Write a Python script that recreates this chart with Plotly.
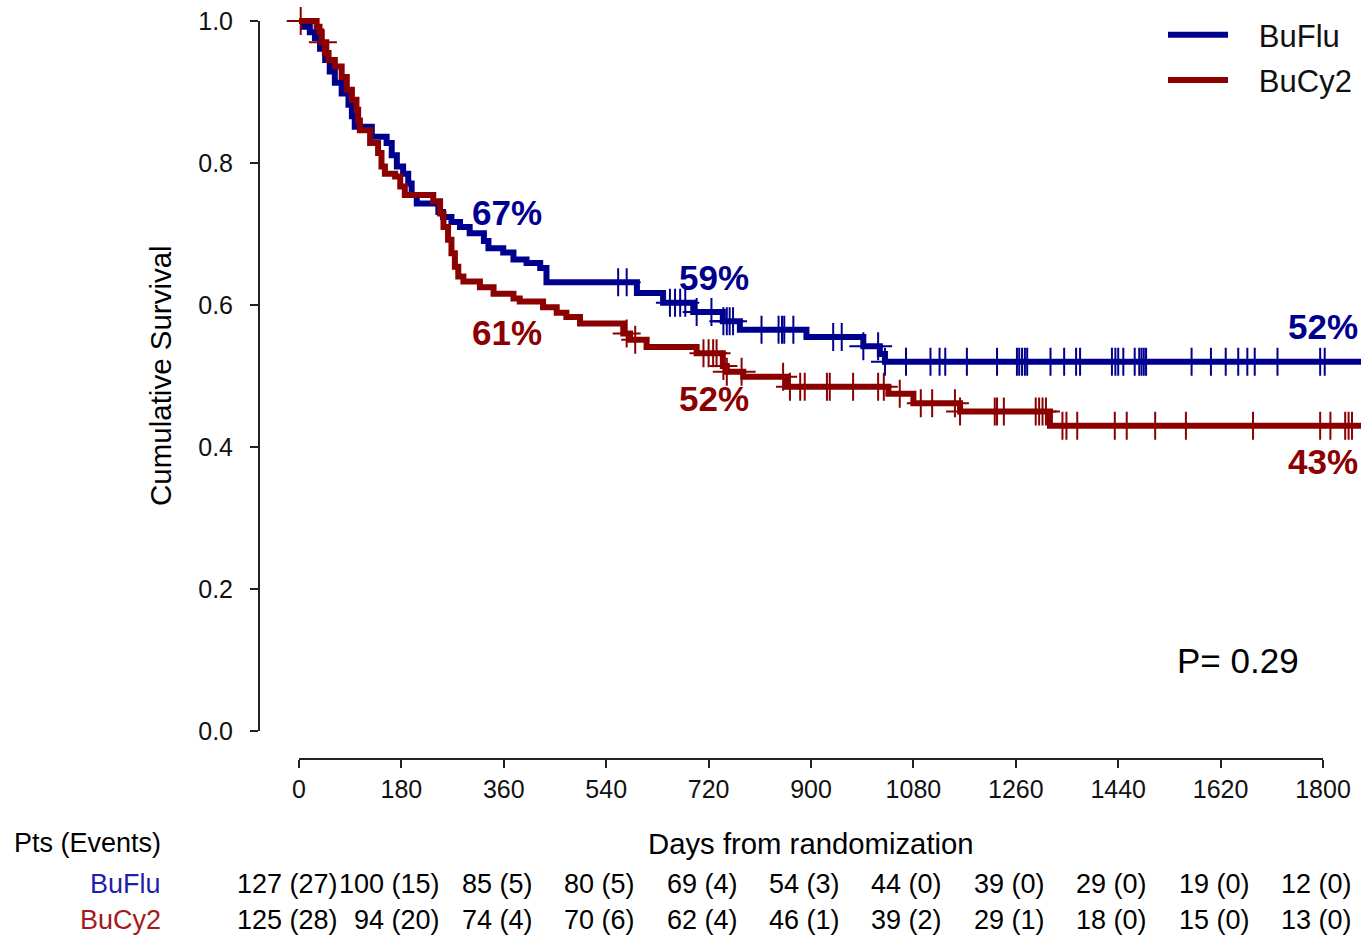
import numpy as np
import plotly.graph_objects as go

# ---------------- data ----------------
groups = ["BuFlu", "BuCy2"]

buflu_time = [0, 8, 19, 28, 37, 46, 54, 63, 75, 87, 93, 98, 128, 154, 163, 172, 183, 192,
              198, 207, 245, 253, 268, 283, 300, 325, 333, 359, 377, 400, 424, 435, 594,
              640, 693, 745, 775, 892, 992, 1021, 1030]
buflu_surv = [1.0, 0.992, 0.984, 0.976, 0.961, 0.945, 0.929, 0.913, 0.898, 0.882, 0.866,
              0.851, 0.837, 0.828, 0.811, 0.795, 0.785, 0.771, 0.755, 0.743, 0.731, 0.724,
              0.717, 0.710, 0.701, 0.690, 0.680, 0.674, 0.664, 0.659, 0.652, 0.632, 0.617,
              0.603, 0.590, 0.577, 0.565, 0.555, 0.542, 0.531, 0.520]
buflu_censor = [561, 576, 652, 661, 670, 679, 699, 725, 746, 752, 757, 763, 813, 843, 849,
                853, 869, 939, 954, 992, 1018, 1030, 1067, 1110, 1126, 1136, 1174, 1227,
                1262, 1266, 1271, 1276, 1280, 1321, 1345, 1366, 1373, 1429, 1435, 1440,
                1449, 1469, 1477, 1481, 1485, 1489, 1569, 1603, 1629, 1651, 1667, 1680,
                1720, 1795, 1803]

bucy2_time = [0, 31, 36, 40, 48, 52, 63, 75, 84, 93, 101, 104, 107, 125, 139, 145, 151, 169,
              178, 186, 236, 248, 254, 262, 268, 274, 280, 289, 318, 342, 377, 388, 429, 453,
              470, 494, 570, 582, 611, 699, 745, 752, 781, 857, 1036, 1080, 1162, 1320]
bucy2_surv = [1.0, 0.992, 0.984, 0.970, 0.955, 0.945, 0.936, 0.921, 0.903, 0.889, 0.875,
              0.860, 0.846, 0.828, 0.814, 0.795, 0.785, 0.781, 0.767, 0.755, 0.746, 0.729,
              0.710, 0.692, 0.673, 0.654, 0.640, 0.633, 0.625, 0.616, 0.609, 0.605, 0.597,
              0.589, 0.583, 0.574, 0.560, 0.551, 0.541, 0.532, 0.514, 0.506, 0.499, 0.485,
              0.475, 0.4615, 0.450, 0.430]
bucy2_censor = [3, 42, 576, 591, 711, 720, 728, 734, 746, 752, 778, 851, 863, 881, 889, 928,
                933, 974, 1018, 1028, 1056, 1093, 1113, 1153, 1162, 1223, 1227, 1239, 1295,
                1301, 1307, 1313, 1342, 1349, 1368, 1434, 1455, 1505, 1559, 1677, 1795, 1813,
                1839, 1845, 1851]

max_followup = 1875

x_ticks = [0, 180, 360, 540, 720, 900, 1080, 1260, 1440, 1620, 1800]
y_ticks = [0.0, 0.2, 0.4, 0.6, 0.8, 1.0]

buflu_risk = [127, 100, 85, 80, 69, 54, 44, 39, 29, 19, 12]
buflu_events = [27, 15, 5, 5, 4, 3, 0, 0, 0, 0, 0]
bucy2_risk = [125, 94, 74, 70, 62, 46, 39, 29, 18, 15, 13]
bucy2_events = [28, 20, 4, 6, 4, 1, 2, 1, 0, 0, 0]

label_days = [365, 729, 1800]
buflu_label_text = ["67%", "59%", "52%"]
buflu_label_y = [0.7296, 0.639, 0.570]
bucy2_label_text = ["61%", "52%", "43%"]
bucy2_label_y = [0.5606, 0.469, 0.380]
p_text = "P= 0.29"
p_pos = (1651, 0.100)

line_colors = ["#00008F", "#8B0000"]
text_colors = ["#1F1FAF", "#A51A1A"]

# ---------------- layout geometry ----------------
W, H = 1361, 936
L, R, T, B = 259, 0, 0, 177
plot_w = W - L - R
plot_h = H - T - B
FONT = "Liberation Sans, Arial, Helvetica, sans-serif"


def py_to_paper(py):
    return (H - B - py) / plot_h


def px_to_paper(px):
    return (px - L) / plot_w


fig = go.Figure()

series = [
    (buflu_time, buflu_surv, buflu_censor),
    (bucy2_time, bucy2_surv, bucy2_censor),
]
for gi, (name, (t, s, c), col) in enumerate(zip(groups, series, line_colors)):
    t_arr = np.array(t, dtype=float)
    s_arr = np.array(s, dtype=float)
    fig.add_trace(go.Scatter(
        x=list(t_arr) + [max_followup], y=list(s_arr) + [s_arr[-1]],
        mode="lines", line=dict(color=col, width=6, shape="hv"),
        name="\u00a0\u00a0\u00a0" + name, legendgroup=name, hoverinfo="skip"))
    c_arr = np.array(c, dtype=float)
    idx = np.searchsorted(t_arr, c_arr, side="right") - 1
    fig.add_trace(go.Scatter(
        x=c_arr, y=s_arr[idx], mode="markers", showlegend=False, legendgroup=name,
        marker=dict(symbol="cross-thin", size=20, color=col,
                    line=dict(color=col, width=2)),
        hoverinfo="skip"))

annotations = []
for d, txt, yv in zip(label_days, buflu_label_text, buflu_label_y):
    annotations.append(dict(x=d, y=yv, xref="x", yref="y", text=f"<b>{txt}</b>",
                            showarrow=False, xanchor="center", yanchor="middle",
                            font=dict(family=FONT, size=35, color=line_colors[0])))
for d, txt, yv in zip(label_days, bucy2_label_text, bucy2_label_y):
    annotations.append(dict(x=d, y=yv, xref="x", yref="y", text=f"<b>{txt}</b>",
                            showarrow=False, xanchor="center", yanchor="middle",
                            font=dict(family=FONT, size=35, color=line_colors[1])))

annotations.append(dict(x=p_pos[0], y=p_pos[1], xref="x", yref="y", text=p_text,
                        showarrow=False, xanchor="center", yanchor="middle",
                        font=dict(family=FONT, size=35, color="black")))

# axis titles
annotations.append(dict(x=px_to_paper(160), y=py_to_paper(376), xref="paper", yref="paper",
                        text="Cumulative Survival", showarrow=False, textangle=-90,
                        xanchor="center", yanchor="middle",
                        font=dict(family=FONT, size=29.5, color="black")))
annotations.append(dict(x=900, y=py_to_paper(843), xref="x", yref="paper",
                        text="Days from randomization", showarrow=False,
                        xanchor="center", yanchor="middle",
                        font=dict(family=FONT, size=29.3, color="black")))

# number-at-risk table
annotations.append(dict(x=px_to_paper(12), y=py_to_paper(843), xref="paper", yref="paper",
                        text="Pts (Events)", showarrow=False, xanchor="left", yanchor="middle",
                        font=dict(family=FONT, size=27, color="black")))
rows = [(buflu_risk, buflu_events, 884), (bucy2_risk, bucy2_events, 920)]
col_digits = [max(len(str(a)), len(str(b))) for a, b in zip(buflu_events, bucy2_events)]
for gi, (risk, ev, ypx) in enumerate(rows):
    annotations.append(dict(x=px_to_paper(163), y=py_to_paper(ypx), xref="paper",
                            yref="paper", text=groups[gi], showarrow=False,
                            xanchor="right", yanchor="middle",
                            font=dict(family=FONT, size=27, color=text_colors[gi])))
    for d, n, e, nd in zip(x_ticks, risk, ev, col_digits):
        annotations.append(dict(x=d, y=py_to_paper(ypx), xref="x", yref="paper",
                                text=f"{n} ({e})", showarrow=False,
                                xanchor="right", yanchor="middle", xshift=21 + 10 * nd,
                                font=dict(family=FONT, size=27, color="black")))

shapes = [
    dict(type="line", xref="paper", yref="y", x0=0, x1=0, y0=min(y_ticks), y1=max(y_ticks),
         line=dict(color="#222222", width=2)),
    dict(type="line", xref="x", yref="paper", x0=min(x_ticks), x1=max(x_ticks), y0=0, y1=0,
         line=dict(color="#222222", width=2)),
]

x_lo = -(299 - L) / (1323 - 299) * 1800
x_hi = (W - R - 299) / (1323 - 299) * 1800
y_lo = -(H - B - 731) / 710
y_hi = (731 - T) / 710

fig.update_layout(
    width=W, height=H,
    margin=dict(l=L, r=R, t=T, b=B, pad=0),
    paper_bgcolor="white", plot_bgcolor="white",
    font=dict(family=FONT, color="black"),
    xaxis=dict(range=[x_lo, x_hi], tickvals=x_ticks, ticktext=[str(v) for v in x_ticks],
               ticks="outside", ticklen=8, tickwidth=2, tickcolor="#222222",
               showgrid=False, zeroline=False, showline=False,
               tickfont=dict(family=FONT, size=25, color="#111111"), ticklabelstandoff=0),
    yaxis=dict(range=[y_lo, y_hi], tickvals=y_ticks, ticktext=[f"{v:.1f}" for v in y_ticks],
               ticks="outside", ticklen=8, tickwidth=2, tickcolor="#222222",
               showgrid=False, zeroline=False, showline=False,
               tickfont=dict(family=FONT, size=25, color="#111111"), ticklabelstandoff=12),
    legend=dict(x=px_to_paper(1163), y=py_to_paper(8), xanchor="left", yanchor="top",
                font=dict(family=FONT, size=31, color="#111111"), itemwidth=60,
                bgcolor="rgba(0,0,0,0)", tracegroupgap=2, traceorder="grouped"),
    annotations=annotations,
    shapes=shapes,
    showlegend=True,
)

fig.write_html("out.html")
